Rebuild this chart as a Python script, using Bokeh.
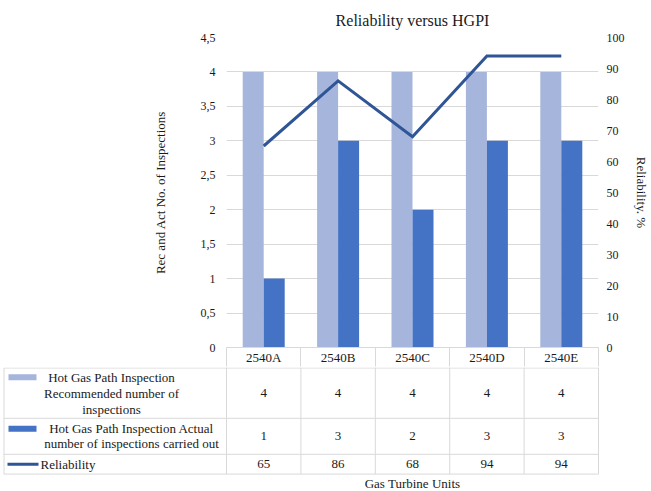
import numpy as np
from bokeh.plotting import figure
from bokeh.models import Range1d, LinearAxis, FixedTicker, ColumnDataSource
from bokeh.transform import dodge
from bokeh.layouts import column
from bokeh.embed import file_html
from bokeh.resources import INLINE
from bokeh.core.properties import value

# ---------------- data ----------------
units = ["2540A", "2540B", "2540C", "2540D", "2540E"]
recommended = [4, 4, 4, 4, 4]
actual = [1, 3, 2, 3, 3]
reliability = [65, 86, 68, 94, 94]

left_ticks = [0, 0.5, 1, 1.5, 2, 2.5, 3, 3.5, 4, 4.5]
left_tick_labels = ["0", "0,5", "1", "1,5", "2", "2,5", "3", "3,5", "4", "4,5"]
right_ticks = [0, 10, 20, 30, 40, 50, 60, 70, 80, 90, 100]

title_text = "Reliability versus HGPI"
left_title = "Rec and Act No. of Inspections"
right_title = "Reliability. %"
x_title = "Gas Turbine Units"
rec_name_lines = ["Hot Gas Path Inspection", "Recommended number of", "inspections"]
act_name_lines = ["Hot Gas Path Inspection Actual", "number of inspections carried out"]
rel_name = "Reliability"

# ---------------- style ----------------
FONT = "Liberation Serif"
LIGHT = "#A6B5DB"
DARK = "#4472C4"
LINE = "#2F5597"
GRID = "#D9D9D9"
TXT = "#1A1A1A"

W = 651
FL = 226          # frame left
FW = 372          # frame width
FR = W - FL - FW  # right border
FT = 37
FH = 311
HDR = 19          # header row of the data table (x axis)
HA = FT + FH + HDR
HB = 123
n = len(units)
cw = FW / n
centers = [i + 0.5 for i in range(n)]   # category positions on the x scale

# ---------------- main chart ----------------
src = ColumnDataSource(dict(xc=centers, unit=units, rec=recommended, act=actual, rel=reliability))

p = figure(width=W, height=HA, x_range=Range1d(0, n), y_range=Range1d(0, 4.5),
           output_backend="svg", toolbar_location=None, x_axis_location=None,
           min_border_left=FL, min_border_right=FR, min_border_top=FT, min_border_bottom=HDR,
           outline_line_color=None)
p.frame_align = False
p.extra_y_ranges = {"rel": Range1d(0, 100)}

p.title.text = title_text
p.title.text_font = FONT
p.title.text_font_size = "16px"
p.title.text_font_style = "normal"
p.title.text_color = TXT
p.title.align = "center"
p.title.offset = 8
p.title.standoff = 17

bw = 21 / cw
p.vbar(x=dodge("xc", -bw / 2), top="rec", width=bw, source=src,
       fill_color=LIGHT, line_color=None)
p.vbar(x=dodge("xc", bw / 2), top="act", width=bw, source=src,
       fill_color=DARK, line_color=None)
p.line(x="xc", y="rel", y_range_name="rel", source=src, line_width=3, line_color=LINE,
       line_join="miter")

yl = p.yaxis[0]
yl.ticker = FixedTicker(ticks=left_ticks)
yl.major_label_overrides = {t: l for t, l in zip(left_ticks, left_tick_labels)}
yl.axis_label = left_title
yl.axis_label_standoff = 30
yl.major_label_standoff = 11

yr = LinearAxis(y_range_name="rel", ticker=FixedTicker(ticks=right_ticks), axis_label=right_title)
yr.axis_label_standoff = 6
yr.major_label_standoff = 8
p.add_layout(yr, "right")

for ax in (yl, yr):
    ax.axis_line_color = None
    ax.major_tick_line_color = None
    ax.minor_tick_line_color = None
    ax.major_tick_out = 0
    ax.major_tick_in = 0
    ax.major_label_text_font = FONT
    ax.major_label_text_font_size = "12px"
    ax.major_label_text_color = TXT
    ax.axis_label_text_font = FONT
    ax.axis_label_text_font_size = "13px"
    ax.axis_label_text_font_style = "normal"
    ax.axis_label_text_color = TXT

# category axis = header row of the data table
xa = LinearAxis(ticker=FixedTicker(ticks=centers, minor_ticks=list(range(n + 1))))
xa.major_label_overrides = {c: u for c, u in zip(centers, units)}
xa.axis_line_color = GRID
xa.major_tick_line_color = None
xa.major_tick_out = 0
xa.major_tick_in = 0
xa.minor_tick_line_color = GRID
xa.minor_tick_out = HDR
xa.minor_tick_in = 0
xa.major_label_standoff = -HDR + 2
xa.major_label_text_font = FONT
xa.major_label_text_font_size = "13px"
xa.major_label_text_color = TXT
p.add_layout(xa, "below")

p.ygrid.grid_line_color = GRID
p.ygrid.grid_line_width = 1
p.xgrid.grid_line_color = None

# ---------------- data table body ----------------
t = figure(width=W, height=HB, x_range=Range1d(-FL / cw, (W - FL) / cw), y_range=Range1d(HB, 0),
           output_backend="svg", toolbar_location=None, x_axis_location=None, y_axis_location=None,
           min_border=0, outline_line_color=None)
t.frame_align = False
t.grid.visible = False

def sx(page_x):
    # page pixel -> category coordinate
    return (page_x - FL) / cw

rows = [0.5, 50.8, 86.8, 106.6]
x_left = sx(3.5)

x0, y0, x1, y1 = [], [], [], []
for j in range(n + 1):
    x0.append(j); x1.append(j); y0.append(0); y1.append(rows[-1])
x0.append(x_left); x1.append(x_left); y0.append(rows[0]); y1.append(rows[-1])
for r in rows:
    x0.append(x_left); x1.append(n); y0.append(r); y1.append(r)
t.segment(x0=x0, y0=y0, x1=x1, y1=y1, line_color=GRID, line_width=1)

txt_kw = dict(text_font=value(FONT), text_font_size="13px", text_color=TXT,
              text_align="center", text_baseline="middle")

r1 = (rows[0] + rows[1]) / 2
r2 = (rows[1] + rows[2]) / 2
r3 = (rows[2] + rows[3]) / 2
t.text(x=centers, y=[r1] * n, text=[str(v) for v in recommended], **txt_kw)
t.text(x=centers, y=[r2] * n, text=[str(v) for v in actual], **txt_kw)
t.text(x=centers, y=[r3] * n, text=[str(v) for v in reliability], **txt_kw)

y_rec = [r1 + (k - (len(rec_name_lines) - 1) / 2) * 16 for k in range(len(rec_name_lines))]
y_act = [r2 + (k - (len(act_name_lines) - 1) / 2) * 15 for k in range(len(act_name_lines))]
t.text(x=[sx(111)] * len(rec_name_lines), y=y_rec, text=rec_name_lines, **txt_kw)
t.text(x=[sx(131)] * len(act_name_lines), y=y_act, text=act_name_lines, **txt_kw)
kw_left = dict(txt_kw); kw_left["text_align"] = "left"
t.text(x=[sx(40)], y=[r3], text=[rel_name], **kw_left)

# legend keys
t.quad(left=[sx(8)], right=[sx(36)], top=[y_rec[0] - 3], bottom=[y_rec[0] + 3],
       fill_color=LIGHT, line_color=None)
t.quad(left=[sx(8)], right=[sx(36)], top=[y_act[0] - 3], bottom=[y_act[0] + 3],
       fill_color=DARK, line_color=None)
t.segment(x0=[sx(7)], y0=[r3], x1=[sx(38)], y1=[r3], line_color=LINE, line_width=3)

# x title
t.text(x=[n / 2], y=[116], text=[x_title], **txt_kw)

layout = column(p, t, spacing=0)
open("out.html", "w").write(file_html(layout, INLINE))
